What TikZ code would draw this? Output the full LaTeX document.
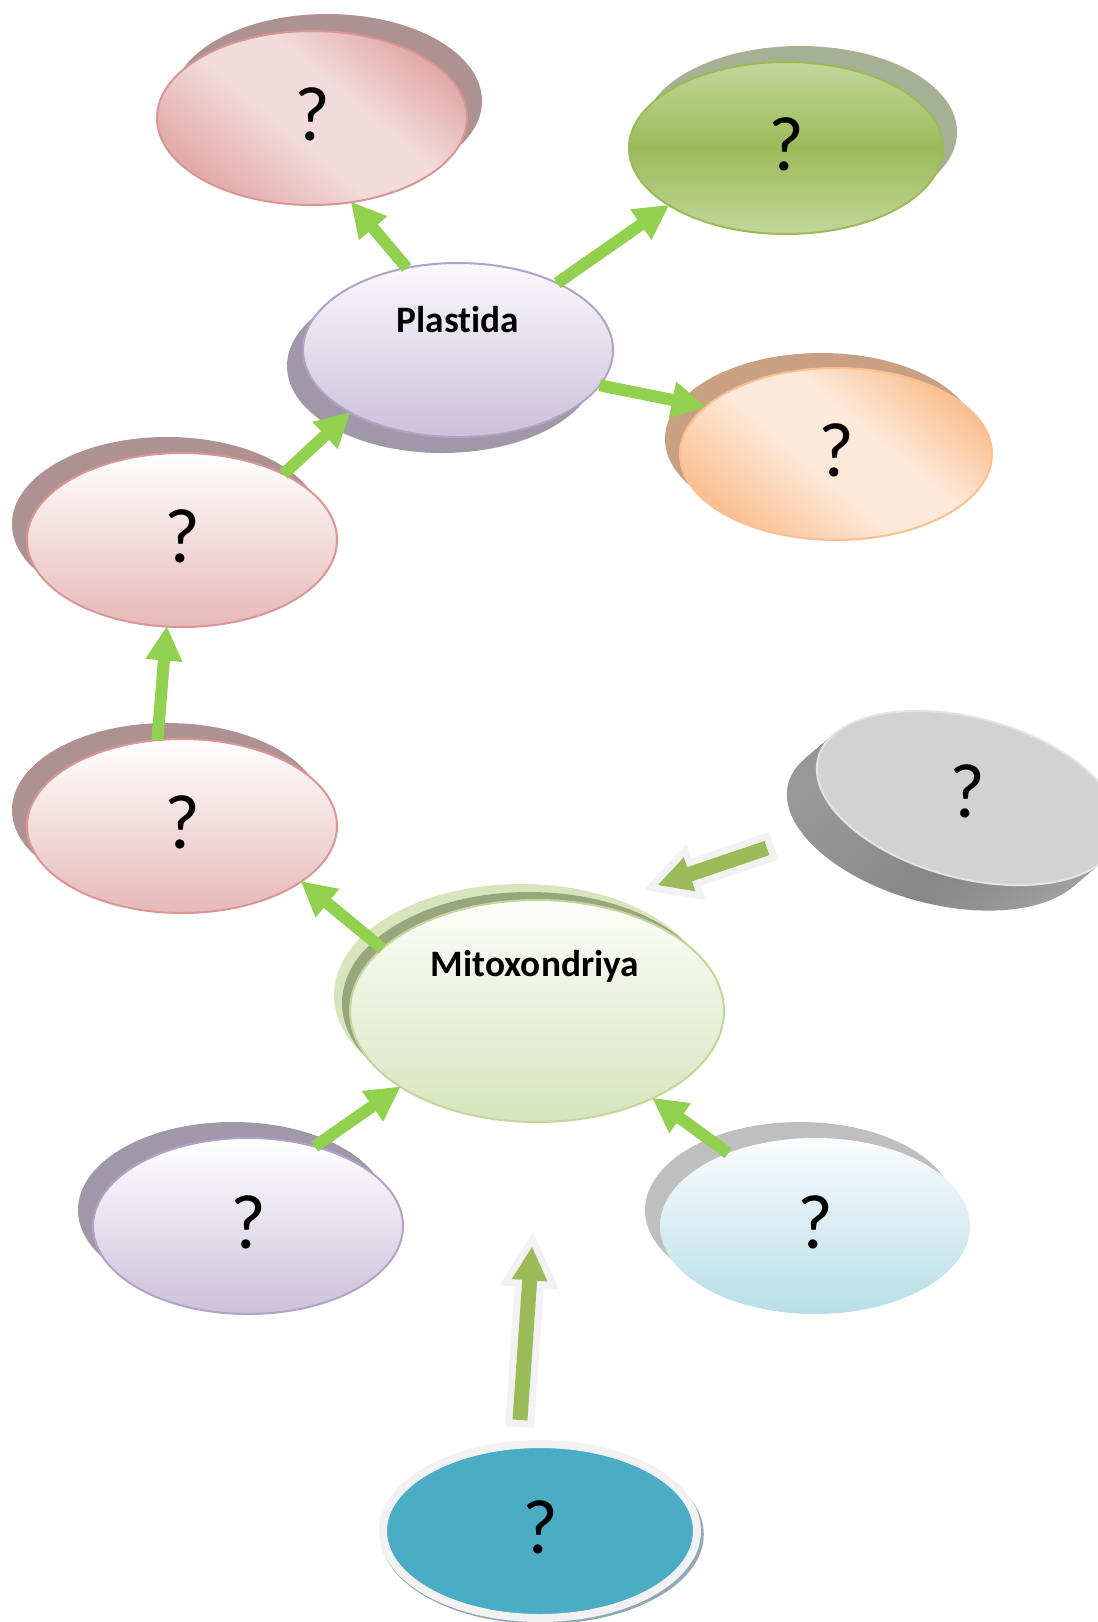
\documentclass[tikz,border=0pt]{standalone}
\usepackage{fontspec}
\setmainfont{Carlito}[Ligatures=NoCommon]
\usetikzlibrary{shapes.geometric,calc,shadows}

\definecolor{agreen}{HTML}{92D050}
\definecolor{arrolive}{HTML}{9BBB59}
\definecolor{halo}{HTML}{F2F2F2}
\definecolor{pkDark}{HTML}{E2A9A8}
\definecolor{pkLight}{HTML}{F2DCDB}
\definecolor{pkBot}{HTML}{E6B9B8}
\definecolor{pkBord}{HTML}{D99694}
\definecolor{pkShad}{HTML}{AE9292}
\definecolor{puTop}{HTML}{FAF9FC}
\definecolor{puBot}{HTML}{CCC1DA}
\definecolor{puBord}{HTML}{B3A2C7}
\definecolor{puShad}{HTML}{A097A8}
\definecolor{grLight}{HTML}{C3D69B}
\definecolor{grMid}{HTML}{9BBB59}
\definecolor{grShad}{HTML}{A6B094}
\definecolor{orDark}{HTML}{FAC090}
\definecolor{orLight}{HTML}{FDE9D9}
\definecolor{orShad}{HTML}{C9A082}
\definecolor{miTop}{HTML}{FCFDFA}
\definecolor{miBot}{HTML}{D7E4BD}
\definecolor{miBord}{HTML}{C3D69B}
\definecolor{miDark}{HTML}{98A67C}
\definecolor{blBot}{HTML}{B7DEE8}
\definecolor{blTop}{HTML}{FAFCFD}
\definecolor{blShad}{HTML}{BFBFBF}
\definecolor{teal}{HTML}{4BACC6}
\definecolor{teShad}{HTML}{8FA9B3}
\definecolor{gA}{HTML}{E8E8E8}
\definecolor{gB}{HTML}{9C9C9C}
\definecolor{gC}{HTML}{878787}
\definecolor{gD}{HTML}{C2C2C2}
\definecolor{gface}{HTML}{D2D2D2}
\definecolor{grim}{HTML}{E4E4E4}

\pgfdeclarehorizontalshading{gside}{100bp}{color(0bp)=(gA); color(22bp)=(gB); color(45bp)=(gC); color(100bp)=(gD)}
\pgfdeclareverticalshading{pkdiag}{100bp}{color(0bp)=(pkDark); color(25bp)=(pkDark); color(45bp)=(pkLight); color(58bp)=(pkLight); color(75bp)=(pkDark); color(100bp)=(pkDark)}
\pgfdeclareverticalshading{ordiag}{100bp}{color(0bp)=(orDark); color(25bp)=(orDark); color(45bp)=(orLight); color(58bp)=(orLight); color(75bp)=(orDark); color(100bp)=(orDark)}

\newcommand\qm{\raisebox{6pt}{?}}

\newcommand\fatarrow[6]{%
  \coordinate (faH) at ($(#3)!#6!(#2)$);
  \path[#1] ($(#2)!#4!90:(#3)$) -- ($(faH)!#4!-90:(#2)$) -- ($(faH)!#5!-90:(#2)$) -- (#3)
     -- ($(faH)!#5!90:(#2)$) -- ($(faH)!#4!90:(#2)$) -- ($(#2)!#4!-90:(#3)$) -- cycle;
}

\tikzset{
  bub/.style={ellipse, inner sep=0pt, outer sep=0pt, line width=1.5pt,
              font=\fontsize{58}{60}\selectfont},
  lbl/.style={font=\bfseries\fontsize{28}{30}\selectfont, anchor=base, inner sep=0pt},
  qlbl/.style={font=\fontsize{58}{60}\selectfont, inner sep=0pt},
  garrow/.style={fill=agreen},
  obg/.style={fill=halo, draw=halo, line width=10.5pt, line join=miter, miter limit=10},
  ofg/.style={fill=arrolive},
}

\begin{document}
\begin{tikzpicture}[x=0.75pt, y=-0.75pt]
\useasboundingbox (0,0) rectangle (1098,1622);
\fill[white] (0,0) rectangle (1098,1622);
\clip (0,0) rectangle (1098,1622);

% ---- Plastida group ----
\node[bub, minimum width=232.5pt, minimum height=130.5pt,
      drop shadow={shadow xshift=11.25pt, shadow yshift=12.75pt, fill=pkShad, opacity=1},
      shade, shading=pkdiag, shading angle=-40,
      draw=pkBord] (pt) at (312,118) {\qm};

\node[bub, minimum width=235.5pt, minimum height=129pt,
      drop shadow={shadow xshift=10.5pt, shadow yshift=12pt, fill=grShad, opacity=1},
      top color=grLight, bottom color=grLight, middle color=grMid,
      draw=grMid] (gr) at (786,148) {\qm};

\node[bub, minimum width=234pt, minimum height=129pt,
      drop shadow={shadow xshift=-11.25pt, shadow yshift=11.25pt, fill=orShad, opacity=1},
      shade, shading=ordiag, shading angle=-40,
      draw=orDark] (or) at (836,454) {\qm};

\node[bub, minimum width=232.5pt, minimum height=130.5pt,
      drop shadow={shadow xshift=-12pt, shadow yshift=-12pt, fill=puShad, opacity=1},
      top color=puTop, bottom color=puBot,
      draw=puBord] (pl) at (458,350) {};
\node[lbl] (plT) at (458,332) {Plastida};

\node[bub, minimum width=232.5pt, minimum height=130.5pt,
      drop shadow={shadow xshift=-11.25pt, shadow yshift=12pt, fill=pkShad, opacity=1},
      top color=white, bottom color=pkBot,
      draw=pkBord] (pm) at (182,540) {\qm};

\node[bub, minimum width=232.5pt, minimum height=130.5pt,
      drop shadow={shadow xshift=-11.25pt, shadow yshift=12pt, fill=pkShad, opacity=1},
      top color=white, bottom color=pkBot,
      draw=pkBord] (pb) at (182,826) {\qm};

% ---- Mitoxondriya group ----
\node[bub, minimum width=280.5pt, minimum height=166.5pt,
      drop shadow={shadow xshift=-12pt, shadow yshift=12pt, fill=miBot, opacity=1},
      drop shadow={shadow xshift=-6pt, shadow yshift=6pt, fill=miDark, opacity=1},
      top color=miTop, bottom color=miBot,
      draw=miBord] (mi) at (537,1011) {};
\node[lbl] (miT) at (535,976) {Mitoxondriya};

\node[bub, minimum width=232.5pt, minimum height=132pt,
      drop shadow={shadow xshift=-11.25pt, shadow yshift=12pt, fill=puShad, opacity=1},
      top color=white, bottom color=puBot,
      draw=puBord] (pu) at (248,1226) {\qm};

\node[bub, minimum width=232.5pt, minimum height=132pt,
      drop shadow={shadow xshift=-11.25pt, shadow yshift=12pt, fill=blShad, opacity=1},
      top color=blTop, bottom color=blBot] (bl) at (815,1226) {\qm};

\node[bub, minimum width=235.5pt, minimum height=130.5pt, line width=6pt,
      drop shadow={shadow xshift=1.5pt, shadow yshift=-2.5pt, shadow scale=1.03, fill=teShad, opacity=1},
      fill=teal, draw=halo] (te) at (540,1531) {\qm};

% ---- gray disc ----
\foreach \k in {30,29,...,1} {
  \shade[shading=gside, rotate around={-15:({968-\k},{798+0.85*\k})}]
    ({968-\k},{798+0.85*\k}) ellipse [x radius=155, y radius=80];
}
\filldraw[fill=gface, draw=grim, line width=1.5pt, rotate around={-15:(968,798)}]
  (968,798) ellipse [x radius=155, y radius=80];
\node[qlbl] (gy) at (967,791) {?};

% ---- green arrows ----
\fatarrow{garrow}{pl.122}{pt.-65}{4.5pt}{14pt}{25.5pt}
\fatarrow{garrow}{pl.34}{gr.206}{4.5pt}{14pt}{25.5pt}
\fatarrow{garrow}{pl.-14}{or.160}{4.5pt}{14pt}{25.5pt}
\fatarrow{garrow}{pm.33}{pl.210}{4.5pt}{14pt}{25.5pt}
\fatarrow{garrow}{pb.106}{pm.260}{4.5pt}{14pt}{25.5pt}
\fatarrow{garrow}{mi.158}{pb.-25}{4.5pt}{14pt}{25.5pt}
\fatarrow{garrow}{pu.50}{mi.209}{4.5pt}{14pt}{25.5pt}
\fatarrow{garrow}{bl.140}{mi.-37}{4.5pt}{14pt}{25.5pt}

% ---- outlined olive arrows ----
\coordinate (iT) at (767,848);
\coordinate (iH) at (658,885);
\coordinate (jT) at (520,1420);
\coordinate (jH) at (532,1247);
\fatarrow{obg}{iT}{iH}{5.6pt}{13.5pt}{25pt}
\fatarrow{ofg}{iT}{iH}{5.6pt}{13.5pt}{25pt}
\fatarrow{obg}{jT}{jH}{5.6pt}{13.5pt}{25pt}
\fatarrow{ofg}{jT}{jH}{5.6pt}{13.5pt}{25pt}
\end{tikzpicture}
\end{document}
